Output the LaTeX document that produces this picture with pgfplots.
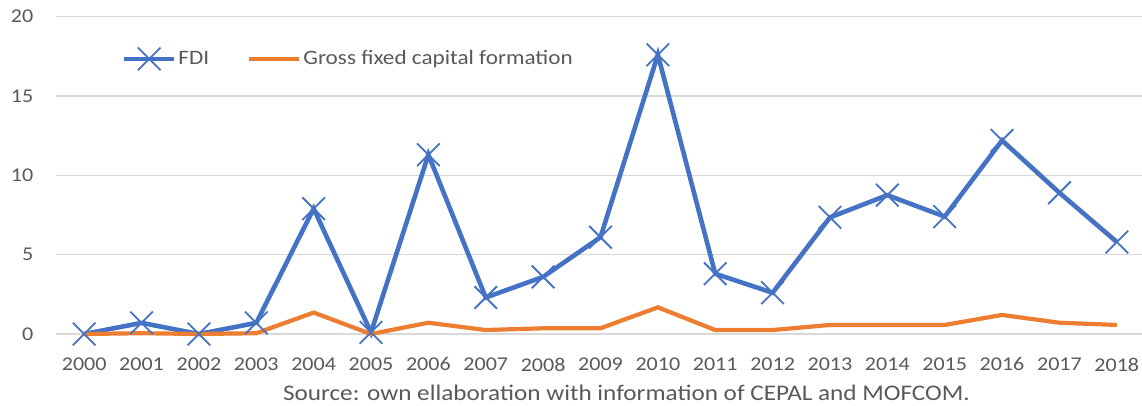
\documentclass[border=0pt]{standalone}
\usepackage{fontspec}
\setmainfont{Carlito}[FakeStretch=1.13]
\usepackage{pgfplots}
\pgfplotsset{compat=1.18}
\definecolor{fdiblue}{HTML}{4472C4}
\definecolor{gfcforange}{HTML}{ED7D31}
\definecolor{gridgray}{HTML}{D9D9D9}
\definecolor{textgray}{HTML}{595959}
\begin{document}
\fontsize{19.5bp}{24bp}\selectfont
\begin{tikzpicture}
\useasboundingbox (0,0) rectangle (1142bp,406bp);
\begin{axis}[
  at={(55.5bp,72bp)}, anchor=south west,
  scale only axis, width=1090bp, height=317.3bp,
  xmin=-0.5, xmax=18.5, ymin=0, ymax=20,
  clip=false,
  ytick={0,5,10,15,20},
  xtick={0,...,18},
  xticklabels={2000,2001,2002,2003,2004,2005,2006,2007,2008,2009,2010,2011,2012,2013,2014,2015,2016,2017,2018},
  axis line style={draw=none},
  major tick length=0pt,
  ymajorgrids, grid style={gridgray, line width=1.5bp},
  tick label style={text=textgray, font=\fontsize{19.5bp}{24bp}\selectfont},
  /pgf/number format/assume math mode=true,
  xticklabel style={anchor=north, inner sep=0pt, yshift=-23.5bp},
  yticklabel style={anchor=east, inner sep=0pt, xshift=-22bp},
  legend style={draw=none, fill=none, at={(0.058,0.867)}, anchor=west,
    font=\fontsize{20.5bp}{25bp}\selectfont, text=textgray,
    /tikz/every even column/.append style={column sep=36bp}},
  legend columns=2,
  legend image code/.code={\draw[mark repeat=2,mark phase=2,#1] plot coordinates {(0bp,0bp) (25bp,0bp) (50bp,0bp)};},
]
\addplot[fdiblue, line width=4.6bp, mark=x, mark size=16bp, mark options={line width=1.8bp, solid}]
  coordinates {(0,0) (1,0.7) (2,0) (3,0.7) (4,7.9) (5,0.1) (6,11.3) (7,2.3) (8,3.6) (9,6.1) (10,17.6) (11,3.8) (12,2.6) (13,7.35) (14,8.75) (15,7.4) (16,12.2) (17,8.9) (18,5.8)};
\addlegendentry{FDI}
\addplot[gfcforange, line width=4.2bp, mark=none]
  coordinates {(0,0) (1,0.05) (2,0) (3,0.05) (4,1.35) (5,0) (6,0.71) (7,0.25) (8,0.36) (9,0.36) (10,1.68) (11,0.25) (12,0.25) (13,0.57) (14,0.57) (15,0.57) (16,1.2) (17,0.71) (18,0.57)};
\addlegendentry{Gross fixed capital formation}
\end{axis}
\node[anchor=base, text=textgray, inner sep=0pt, font=\fontsize{22.3bp}{27bp}\selectfont] at (626.5bp,6bp) {Source: own ellaboration with information of CEPAL and MOFCOM.};
\end{tikzpicture}
\end{document}
